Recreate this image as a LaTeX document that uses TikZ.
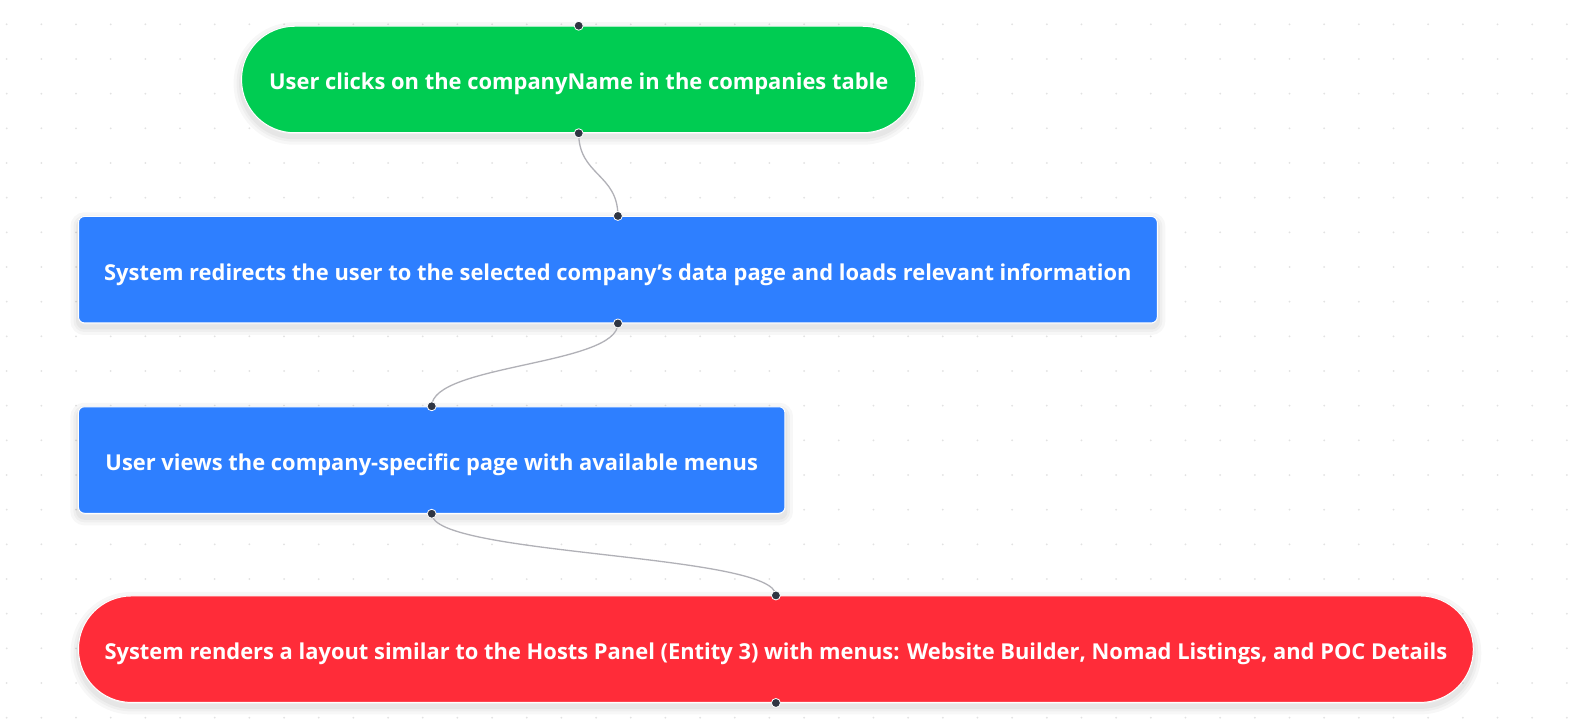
\documentclass[tikz,border=0pt]{standalone}
\usepackage{fontspec}
\setmainfont{Open Sans}
\definecolor{startgreen}{HTML}{00CC52}
\definecolor{stepblue}{HTML}{2E7FFF}
\definecolor{endred}{HTML}{FF2C39}
\definecolor{handledark}{HTML}{2F3542}
\definecolor{edgegray}{HTML}{B1B1B7}
\definecolor{dotgray}{HTML}{E2E2E2}
\tikzset{
  softshadow/.style={
    preaction={fill=none, draw=black, draw opacity=0.03, line width=16pt, transform canvas={yshift=-4pt}},
    preaction={fill=none, draw=black, draw opacity=0.03, line width=10pt, transform canvas={yshift=-4pt}},
    preaction={fill=none, draw=black, draw opacity=0.035, line width=5pt, transform canvas={yshift=-4pt}}},
  flowbox/.style={softshadow, draw=white, line width=1pt, text=white, align=center,
    minimum height=106.5pt, inner sep=0pt, text height=21pt, text depth=0pt,
    font=\fontsize{21.9}{26}\selectfont\bfseries},
  pillbox/.style={flowbox, rounded corners=53pt},
  stepbox/.style={flowbox, rounded corners=6pt, fill=stepblue},
  handle/.style={circle, fill=handledark, draw=white, line width=0.8pt,
    minimum size=9pt, inner sep=0pt},
  link/.style={edgegray, line width=1.3pt},
}
\begin{document}
\begin{tikzpicture}[x=1pt, y=-1pt]
\useasboundingbox (0,0) rectangle (1578,727);
\fill[white] (0,0) rectangle (1578,727);
% dotted canvas grid
\foreach \i in {0,...,45}
  \foreach \j in {0,...,20}
    \fill[dotgray] ({6.7+34.67*\i},{24.3+34.67*\j}) circle (1pt);

% flow steps
\node[pillbox, fill=startgreen, minimum width=674.3pt] (g) at (578.7,79.5)
  {User clicks on the companyName in the companies table};
\node[stepbox, minimum width=1078.8pt] (b1) at (617.9,269.7)
  {System redirects the user to the selected company’s data page and loads relevant information};
\node[stepbox, minimum width=706.5pt] (b2) at (431.7,460)
  {User views the company-specific page with available menus};
\node[pillbox, fill=endred, minimum width=1394.8pt] (r) at (775.9,649.2)
  {System renders a layout similar to the Hosts Panel (Entity 3) with menus: Website Builder, Nomad Listings, and POC Details};

% connection points
\coordinate (gT) at (g.north);
\coordinate (gB) at (g.south);
\coordinate (b1T) at (b1.north);
\coordinate (b1B) at (b1.south);
\coordinate (b2T) at (b2.north);
\coordinate (b2B) at (b2.south);
\coordinate (rT) at (r.north);
\coordinate (rB) at (r.south);

% curved connectors
\draw[link] (gB) .. controls +(0,42) and +(0,-42) .. (b1T);
\draw[link] (b1B) .. controls +(0,42) and +(0,-42) .. (b2T);
\draw[link] (b2B) .. controls +(0,42) and +(0,-42) .. (rT);

% handles
\foreach \p in {gT,gB,b1T,b1B,b2T,b2B,rT,rB}
  \node[handle] (\p h) at (\p) {};
\end{tikzpicture}
\end{document}
